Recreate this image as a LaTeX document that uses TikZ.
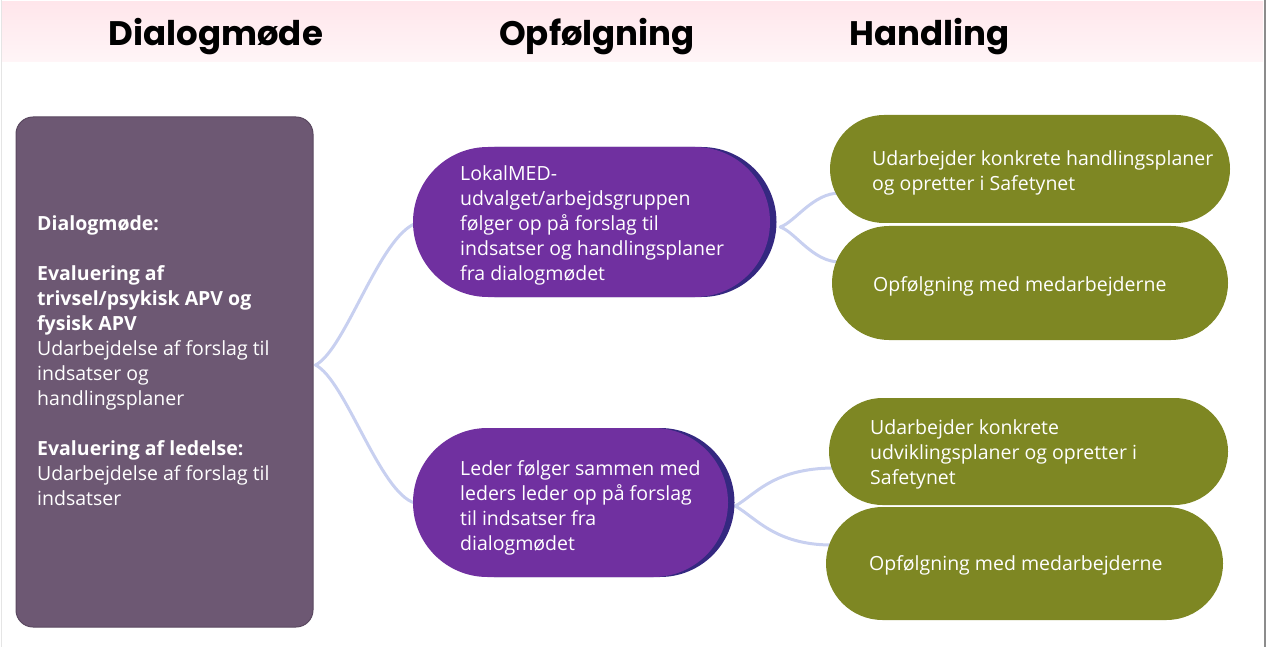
\documentclass[tikz,border=0pt]{standalone}
\usepackage{fontspec}
\setmainfont{Open Sans}
\newfontfamily\titlefont{Poppins}
\usetikzlibrary{calc,shadows}
\definecolor{lbfill}{RGB}{109,88,115}
\definecolor{lbdraw}{RGB}{90,72,96}
\definecolor{purp}{RGB}{112,48,160}
\definecolor{purpsh}{RGB}{52,40,128}
\definecolor{olive}{RGB}{126,135,35}
\definecolor{conn}{RGB}{200,208,240}
\definecolor{hdtop}{RGB}{255,230,235}
\definecolor{hdbot}{RGB}{255,245,247}
\pgfdeclarelayer{bg}
\pgfsetlayers{bg,main}
\begin{document}
\begin{tikzpicture}[x=1pt,y=-1pt,
  txt/.style={font=\fontsize{19.5}{25}\selectfont, text=white, align=left, inner sep=0pt, anchor=north west},
  ttl/.style={font=\titlefont\bfseries\fontsize{34}{40}\selectfont, anchor=base, inner sep=0pt, text=black},
  leftbox/.style={draw=lbdraw, line width=1pt, fill=lbfill, rounded corners=17pt, inner sep=0pt},
  purpbox/.style={fill=purp, rounded corners=#1, inner sep=0pt,
    drop shadow={shadow xshift=6.5pt, shadow yshift=0pt, opacity=1, fill=purpsh}},
  olivebox/.style={fill=olive, rounded corners=#1, inner sep=0pt},
  link/.style={draw=conn, line width=3pt, line cap=round}]
\useasboundingbox (0,0) rectangle (1266,647);
% frame and header
\shade[top color=hdtop, bottom color=hdbot] (1,2) rectangle (1263,62);
\draw[line width=0.8pt, black!10] (1,0) -- (1,647);
\draw[line width=1.2pt, black!45] (1265,0) -- (1265,647);
\node[ttl] (t1) at (216,46) {Dialogmøde};
\node[ttl] (t2) at (597,46) {Opfølgning};
\node[ttl] (t3) at (929.5,46) {Handling};
% shapes
\node[leftbox, minimum width=297pt, minimum height=510pt] (lb) at (164.5,372) {};
\node[purpbox=75pt, minimum width=357pt, minimum height=150pt] (p1) at (591.5,222) {};
\node[purpbox=74.5pt, minimum width=315pt, minimum height=149pt] (p2) at (570.5,502.5) {};
\node[olivebox=54pt, minimum width=400pt, minimum height=108pt] (g1) at (1030,169) {};
\node[olivebox=57pt, minimum width=396pt, minimum height=114pt] (g2) at (1030,283) {};
\node[olivebox=53.5pt, minimum width=399pt, minimum height=107pt] (g3) at (1028.5,451.5) {};
\node[olivebox=56.5pt, minimum width=397pt, minimum height=113pt] (g4) at (1024.5,563.5) {};
% connectors
\begin{pgfonlayer}{bg}
\draw[link] ($(lb.east)+(2,-7)$) .. controls +(30,-15) and +(-37,12) .. ($(p1.west)+(4,1)$);
\draw[link] ($(lb.east)+(2,-7)$) .. controls +(30,15) and +(-35,-10) .. ($(p2.west)+(2,0.5)$);
\draw[link] ($(p1.east)+(10,5)$) .. controls +(15,-5) and +(-27,0) .. ($(g1.west)+(10,24)$);
\draw[link] ($(p1.east)+(10,5)$) .. controls +(15,5) and +(-27,0) .. ($(g2.west)+(8,-21)$);
\draw[link] ($(p2.east)+(7,3.5)$) .. controls +(20,-11) and +(-62,0) .. ($(g3.west)+(6,16.5)$);
\draw[link] ($(p2.east)+(7,3.5)$) .. controls +(20,11) and +(-57,0) .. ($(g4.west)+(6,-18.5)$);
\end{pgfonlayer}
% texts
\node[txt] (lbt) at (37,215) {\rule{0pt}{15pt}\textbf{Dialogmøde:}\\[25pt]
  \textbf{Evaluering af}\\ \textbf{trivsel/psykisk APV og}\\ \textbf{fysisk APV}\\
  Udarbejdelse af forslag til\\ indsatser og\\ handlingsplaner\\[25pt]
  \textbf{Evaluering af ledelse:}\\ Udarbejdelse af forslag til\\ indsatser};
\node[txt] (p1t) at (460,165) {\rule{0pt}{15pt}LokalMED-\\ udvalget/arbejdsgruppen\\ følger op på forslag til\\ indsatser og handlingsplaner\\ fra dialogmødet};
\node[txt] (p2t) at (460,460) {\rule{0pt}{15pt}Leder følger sammen med\\ leders leder op på forslag\\ til indsatser fra\\ dialogmødet};
\node[txt] (g1t) at (872,150) {\rule{0pt}{15pt}Udarbejder konkrete handlingsplaner\\ og opretter i Safetynet};
\node[txt] (g2t) at (873,276) {\rule{0pt}{15pt}Opfølgning med medarbejderne};
\node[txt] (g3t) at (870,419) {\rule{0pt}{15pt}Udarbejder konkrete\\ udviklingsplaner og opretter i\\ Safetynet};
\node[txt] (g4t) at (869,555) {\rule{0pt}{15pt}Opfølgning med medarbejderne};
\end{tikzpicture}
\end{document}
